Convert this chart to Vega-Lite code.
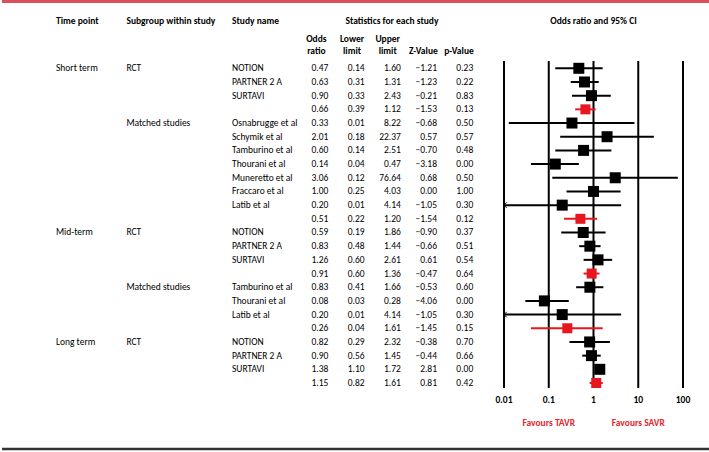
{
  "$schema": "https://vega.github.io/schema/vega-lite/v6.json",
  "width": 709,
  "height": 452,
  "autosize": {"type": "fit", "contains": "padding"},
  "padding": 0,
  "background": "white",
  "config": {
    "view": {"stroke": null},
    "font": "Carlito, Lato, sans-serif",
    "text": {"font": "Carlito, Lato, sans-serif", "fontSize": 9.5, "color": "#000"}
  },
  "data": {"values": [
    {"row": 1, "time": "Short term", "sub": "RCT", "study": "NOTION", "type": "study", "or": 0.47, "lo": 0.14, "hi": 1.60, "z": -1.21, "p": 0.23},
    {"row": 2, "study": "PARTNER 2 A", "type": "study", "or": 0.63, "lo": 0.31, "hi": 1.31, "z": -1.23, "p": 0.22},
    {"row": 3, "study": "SURTAVI", "type": "study", "or": 0.90, "lo": 0.33, "hi": 2.43, "z": -0.21, "p": 0.83},
    {"row": 4, "type": "pooled", "or": 0.66, "lo": 0.39, "hi": 1.12, "z": -1.53, "p": 0.13},
    {"row": 5, "sub": "Matched studies", "study": "Osnabrugge et al", "type": "study", "or": 0.33, "lo": 0.0128, "hi": 8.22, "z": -0.68, "p": 0.50},
    {"row": 6, "study": "Schymik et al", "type": "study", "or": 2.01, "lo": 0.18, "hi": 22.37, "z": 0.57, "p": 0.57},
    {"row": 7, "study": "Tamburino et al", "type": "study", "or": 0.60, "lo": 0.14, "hi": 2.51, "z": -0.70, "p": 0.48},
    {"row": 8, "study": "Thourani et al", "type": "study", "or": 0.14, "lo": 0.04, "hi": 0.47, "z": -3.18, "p": 0.00},
    {"row": 9, "study": "Muneretto et al", "type": "study", "or": 3.06, "lo": 0.12, "hi": 76.64, "z": 0.68, "p": 0.50},
    {"row": 10, "study": "Fraccaro et al", "type": "study", "or": 1.00, "lo": 0.25, "hi": 4.03, "z": 0.00, "p": 1.00},
    {"row": 11, "study": "Latib et al", "type": "study", "or": 0.20, "lo": 0.008, "hi": 4.14, "z": -1.05, "p": 0.30},
    {"row": 12, "type": "pooled", "or": 0.51, "lo": 0.22, "hi": 1.20, "z": -1.54, "p": 0.12},
    {"row": 13, "time": "Mid-term", "sub": "RCT", "study": "NOTION", "type": "study", "or": 0.59, "lo": 0.19, "hi": 1.86, "z": -0.90, "p": 0.37},
    {"row": 14, "study": "PARTNER 2 A", "type": "study", "or": 0.83, "lo": 0.48, "hi": 1.44, "z": -0.66, "p": 0.51},
    {"row": 15, "study": "SURTAVI", "type": "study", "or": 1.26, "lo": 0.60, "hi": 2.61, "z": 0.61, "p": 0.54},
    {"row": 16, "type": "pooled", "or": 0.91, "lo": 0.60, "hi": 1.36, "z": -0.47, "p": 0.64},
    {"row": 17, "sub": "Matched studies", "study": "Tamburino et al", "type": "study", "or": 0.83, "lo": 0.41, "hi": 1.66, "z": -0.53, "p": 0.60},
    {"row": 18, "study": "Thourani et al", "type": "study", "or": 0.08, "lo": 0.03, "hi": 0.28, "z": -4.06, "p": 0.00},
    {"row": 19, "study": "Latib et al", "type": "study", "or": 0.20, "lo": 0.008, "hi": 4.14, "z": -1.05, "p": 0.30},
    {"row": 20, "type": "pooled", "or": 0.26, "lo": 0.04, "hi": 1.61, "z": -1.45, "p": 0.15},
    {"row": 21, "time": "Long term", "sub": "RCT", "study": "NOTION", "type": "study", "or": 0.82, "lo": 0.29, "hi": 2.32, "z": -0.38, "p": 0.70},
    {"row": 22, "study": "PARTNER 2 A", "type": "study", "or": 0.90, "lo": 0.56, "hi": 1.45, "z": -0.44, "p": 0.66},
    {"row": 23, "study": "SURTAVI", "type": "study", "or": 1.38, "lo": 1.10, "hi": 1.72, "z": 2.81, "p": 0.00},
    {"row": 24, "type": "pooled", "or": 1.15, "lo": 0.82, "hi": 1.61, "z": 0.81, "p": 0.42}
  ]},
  "resolve": {"scale": {"x": "independent"}},
  "layer": [
    {
      "data": {"values": [{"edge": "top"}]},
      "mark": {"type": "rule", "color": "#d9505a", "strokeWidth": 3},
      "encoding": {
        "x": {"datum": 0, "type": "quantitative", "axis": null,
              "scale": {"domain": [0, 1], "range": [0, 709], "nice": false, "zero": false}},
        "x2": {"datum": 1},
        "y": {"datum": -3.88, "type": "quantitative", "axis": null}
      }
    },
    {
      "data": {"values": [{"edge": "bottom"}]},
      "mark": {"type": "rule", "color": "#333333", "strokeWidth": 2.5},
      "encoding": {
        "x": {"datum": 0, "type": "quantitative", "axis": null,
              "scale": {"domain": [0, 1], "range": [0, 709], "nice": false, "zero": false}},
        "x2": {"datum": 1},
        "y": {"datum": 28.82, "type": "quantitative", "axis": null}
      }
    },
    {
      "transform": [
        {"fold": ["time", "sub", "study"], "as": ["col", "val"]},
        {"filter": "isValid(datum.val)"}
      ],
      "mark": {"type": "text", "align": "left", "baseline": "middle"},
      "encoding": {
        "x": {"field": "col", "type": "nominal", "axis": null,
              "scale": {"type": "point", "domain": ["time", "g1", "sub", "g2", "g3", "study"], "range": [54, 230], "padding": 0}},
        "y": {"field": "row", "type": "quantitative", "axis": null,
              "scale": {"domain": [1, 24], "range": [68.3, 383], "nice": false, "zero": false}},
        "text": {"field": "val", "type": "nominal"}
      }
    },
    {
      "transform": [
        {"fold": ["or", "lo", "hi", "z", "p"], "as": ["col", "val"]}
      ],
      "mark": {"type": "text", "align": "right", "baseline": "middle"},
      "encoding": {
        "x": {"field": "col", "type": "nominal", "axis": null,
              "scale": {"type": "point", "domain": ["or", "lo", "hi", "z", "p"], "range": [326.4, 471.2], "padding": 0}},
        "y": {"field": "row", "type": "quantitative", "axis": null},
        "text": {"field": "val", "type": "quantitative", "format": ".2f"}
      }
    },
    {
      "data": {"values": [
        {"k": "time", "t": "Time point"},
        {"k": "sub", "t": "Subgroup within study"},
        {"k": "study", "t": "Study name"}
      ]},
      "mark": {"type": "text", "align": "left", "baseline": "middle", "fontWeight": "bold"},
      "encoding": {
        "x": {"field": "k", "type": "nominal", "axis": null,
              "scale": {"type": "point", "domain": ["time", "g1", "sub", "g2", "g3", "study"], "range": [54, 230], "padding": 0}},
        "y": {"datum": -2.46, "type": "quantitative", "axis": null},
        "text": {"field": "t", "type": "nominal"}
      }
    },
    {
      "data": {"values": [{"k": "stats", "t": "Statistics for each study"}]},
      "mark": {"type": "text", "align": "center", "baseline": "middle", "fontWeight": "bold"},
      "encoding": {
        "x": {"field": "k", "type": "nominal", "axis": null,
              "scale": {"type": "point", "domain": ["stats"], "range": [308, 472], "padding": 0.5}},
        "y": {"datum": -2.46, "type": "quantitative", "axis": null},
        "text": {"field": "t", "type": "nominal"}
      }
    },
    {
      "data": {"values": [{"at": 1, "t": "Odds ratio and 95% CI"}]},
      "mark": {"type": "text", "align": "center", "baseline": "middle", "fontWeight": "bold"},
      "encoding": {
        "x": {"field": "at", "type": "quantitative", "axis": null,
              "scale": {"type": "log", "domain": [0.01, 100], "range": [502, 681], "nice": false}},
        "y": {"datum": -2.46, "type": "quantitative", "axis": null},
        "text": {"field": "t", "type": "nominal"}
      }
    },
    {
      "data": {"values": [
        {"k": "or", "t": "Odds"},
        {"k": "lo", "t": "Lower"},
        {"k": "hi", "t": "Upper"}
      ]},
      "mark": {"type": "text", "align": "center", "baseline": "middle", "fontWeight": "bold"},
      "encoding": {
        "x": {"field": "k", "type": "nominal", "axis": null,
              "scale": {"type": "point", "domain": ["or", "lo", "hi", "z", "p"], "range": [314.4, 457], "padding": 0}},
        "y": {"datum": -1.12, "type": "quantitative", "axis": null},
        "text": {"field": "t", "type": "nominal"}
      }
    },
    {
      "data": {"values": [
        {"k": "or", "t": "ratio"},
        {"k": "lo", "t": "limit"},
        {"k": "hi", "t": "limit"},
        {"k": "z", "t": "Z-Value"},
        {"k": "p", "t": "p-Value"}
      ]},
      "mark": {"type": "text", "align": "center", "baseline": "middle", "fontWeight": "bold"},
      "encoding": {
        "x": {"field": "k", "type": "nominal", "axis": null,
              "scale": {"type": "point", "domain": ["or", "lo", "hi", "z", "p"], "range": [314.4, 457], "padding": 0}},
        "y": {"datum": -0.26, "type": "quantitative", "axis": null},
        "text": {"field": "t", "type": "nominal"}
      }
    },
    {
      "data": {"values": [{"v": 0.01}, {"v": 0.1}, {"v": 1}, {"v": 10}, {"v": 100}]},
      "mark": {"type": "rule", "color": "#000000", "strokeWidth": 2},
      "encoding": {
        "x": {"field": "v", "type": "quantitative", "axis": null,
              "scale": {"type": "log", "domain": [0.01, 100], "range": [502, 681], "nice": false}},
        "y": {"datum": 0.47, "type": "quantitative", "axis": null},
        "y2": {"datum": 24.36}
      }
    },
    {
      "data": {"values": [{"v": 0.01}, {"v": 0.1}, {"v": 1}, {"v": 10}, {"v": 100}]},
      "mark": {"type": "text", "align": "center", "baseline": "middle", "fontWeight": "bold"},
      "encoding": {
        "x": {"field": "v", "type": "quantitative", "axis": null,
              "scale": {"type": "log", "domain": [0.01, 100], "range": [502, 681], "nice": false}},
        "y": {"datum": 25.24, "type": "quantitative", "axis": null},
        "text": {"field": "v", "type": "quantitative", "format": "~g"}
      }
    },
    {
      "mark": {"type": "rule", "strokeWidth": 2},
      "encoding": {
        "x": {"field": "lo", "type": "quantitative", "axis": null,
              "scale": {"type": "log", "domain": [0.01, 100], "range": [502, 681], "nice": false, "clamp": true}},
        "x2": {"field": "hi"},
        "y": {"field": "row", "type": "quantitative", "axis": null},
        "color": {"field": "type", "type": "nominal", "legend": null,
                  "scale": {"domain": ["study", "pooled"], "range": ["#000000", "#e8161f"]}}
      }
    },
    {
      "mark": {"type": "point", "shape": "square", "filled": true, "opacity": 1},
      "encoding": {
        "x": {"field": "or", "type": "quantitative", "axis": null,
              "scale": {"type": "log", "domain": [0.01, 100], "range": [502, 681], "nice": false, "clamp": true}},
        "y": {"field": "row", "type": "quantitative", "axis": null},
        "color": {"field": "type", "type": "nominal", "legend": null},
        "size": {"field": "type", "type": "nominal", "legend": null,
                 "scale": {"domain": ["study", "pooled"], "range": [121, 100]}}
      }
    },
    {
      "transform": [{"filter": "datum.lo < 0.01"}],
      "mark": {"type": "point", "shape": "M1,-1L0,0L1,1", "filled": false, "color": "#000000", "strokeWidth": 1, "size": 30, "opacity": 1},
      "encoding": {
        "x": {"field": "lo", "type": "quantitative", "axis": null,
              "scale": {"type": "log", "domain": [0.01, 100], "range": [502, 681], "nice": false, "clamp": true}},
        "y": {"field": "row", "type": "quantitative", "axis": null}
      }
    },
    {
      "data": {"values": [{"at": 0.1, "t": "Favours TAVR"}, {"at": 10, "t": "Favours SAVR"}]},
      "mark": {"type": "text", "align": "center", "baseline": "middle", "fontWeight": "bold", "color": "#e3262d"},
      "encoding": {
        "x": {"field": "at", "type": "quantitative", "axis": null,
              "scale": {"type": "log", "domain": [0.01, 100], "range": [502, 681], "nice": false}},
        "y": {"datum": 26.92, "type": "quantitative", "axis": null},
        "text": {"field": "t", "type": "nominal"}
      }
    }
  ]
}
